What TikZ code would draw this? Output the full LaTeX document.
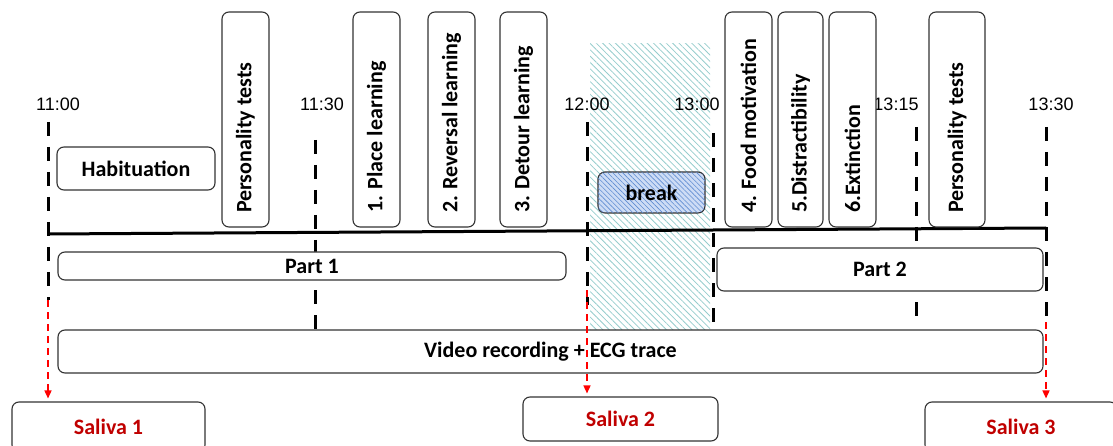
\documentclass[tikz,border=0pt]{standalone}
\usepackage{fontspec}
\setmainfont{Carlito}
\newfontfamily\clockfont{Liberation Sans}
\usetikzlibrary{arrows.meta,patterns.meta}

\definecolor{salred}{RGB}{192,0,0}
\definecolor{hatchteal}{RGB}{150,205,205}
\definecolor{breakblue}{RGB}{205,220,245}
\definecolor{breakhatch}{RGB}{95,140,210}

% text flush to the lower end of an upright box
\newcommand{\uptext}[1]{\makebox[187pt][l]{#1}}

\tikzset{
  task/.style={draw=black!80, line width=1.1pt, rounded corners=7pt, fill=white,
    inner sep=0pt, font=\fontsize{22}{26}\selectfont\bfseries},
  vtask/.style={task, rotate=90, inner xsep=14pt, minimum height=47pt},
  tick/.style={line width=3pt, dash pattern=on 14pt off 11pt},
  saliva/.style={red, line width=1.5pt, dash pattern=on 7pt off 5pt,
    -{Triangle[length=8pt,width=7pt]}, shorten >=3pt},
  clock/.style={font=\clockfont\fontsize{18}{20}\selectfont},
}

\begin{document}
\begin{tikzpicture}[x=1pt,y=-1pt]
\useasboundingbox (0,0) rectangle (1113,446);

% break area
\fill[pattern={Lines[angle=-45,distance=4.5pt,line width=0.8pt]}, pattern color=hatchteal]
  (590,44) rectangle (710,330);

% clock times
\node[clock] (c1100) at (58,104) {11:00};
\node[clock] (c1130) at (322,104) {11:30};
\node[clock] (c1200) at (587,104) {12:00};
\node[clock] (c1300) at (697,104) {13:00};
\node[clock] (c1315) at (896,104) {13:15};
\node[clock] (c1330) at (1051,104) {13:30};

% time marks
\coordinate (m1100) at (48,122);  \coordinate (e1100) at (48,300);
\coordinate (m1130) at (315,140); \coordinate (e1130) at (315,330);
\coordinate (m1200) at (587,122); \coordinate (e1200) at (587,305);
\coordinate (m1300) at (713,133); \coordinate (e1300) at (713,325);
\coordinate (m1315) at (916,127); \coordinate (e1315) at (916,318);
\coordinate (m1330) at (1046,127); \coordinate (e1330) at (1046,325);
\draw[tick] (m1100) -- (e1100);
\draw[tick] (m1130) -- (e1130);
\draw[tick] (m1200) -- (e1200);
\draw[tick] (m1300) -- (e1300);
\draw[tick] (m1315) -- (e1315);
\draw[tick] (m1330) -- (e1330);

% time line
\coordinate (start) at (48,234);
\coordinate (stop) at (1046,228);
\draw[line width=3pt] (start) -- (stop);

% tasks
\node[task, minimum width=158pt, minimum height=43pt] (hab) at (136,168.5) {Habituation};
\node[vtask] (pers1) at (245.5,119.5) {\uptext{Personality tests}};
\node[vtask] (place) at (376.5,119.5) {\uptext{1. Place learning}};
\node[vtask] (reversal) at (451.5,119.5) {\uptext{2. Reversal learning}};
\node[vtask] (detour) at (523.5,119.5) {\uptext{3. Detour learning}};
\node[task, minimum width=107pt, minimum height=41pt, fill=breakblue,
  postaction={pattern={Lines[angle=-45,distance=3.5pt,line width=0.6pt]}, pattern color=breakhatch}]
  (brk) at (651.5,192.5) {break};
\node[vtask] (food) at (748.5,119.5) {\uptext{4. Food motivation}};
\node[vtask, minimum height=45pt] (distr) at (800.5,119.5) {\uptext{5.Distractibility}};
\node[vtask] (ext) at (852.5,119.5) {\uptext{6.Extinction}};
\node[vtask, minimum height=56pt] (pers2) at (957,119.5) {\uptext{Personality tests}};

% parts
\node[task, minimum width=508pt, minimum height=28pt] (part1) at (312,266) {Part 1};
\node[task, minimum width=326pt, minimum height=43pt] (part2) at (880,269.5) {Part 2};
\node[task, minimum width=985pt, minimum height=43pt] (video) at (550.5,351.5) {Video recording + ECG trace};

% saliva samples
\node[task, text=salred, minimum width=193pt, minimum height=50pt] (sal1) at (108.5,427) {Saliva 1};
\node[task, text=salred, minimum width=195pt, minimum height=44pt] (sal2) at (620.5,419) {Saliva 2};
\node[task, text=salred, minimum width=192pt, minimum height=50pt] (sal3) at (1021,427) {Saliva 3};

\coordinate (r1100) at (48,300);
\coordinate (r1200) at (587,290);
\coordinate (r1330) at (1046,322);
\draw[saliva] (r1100) -- (r1100 |- sal1.north);
\draw[saliva] (r1200) -- (r1200 |- sal2.north);
\draw[saliva] (r1330) -- (r1330 |- sal3.north);
\end{tikzpicture}
\end{document}
